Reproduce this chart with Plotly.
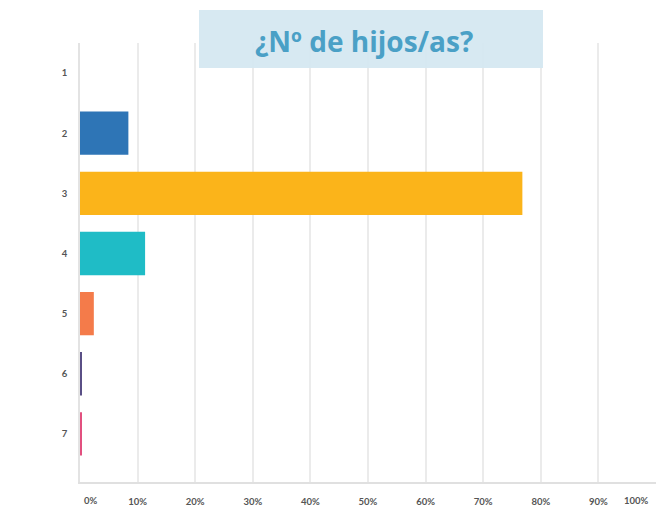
import plotly.graph_objects as go

categories = ["1", "2", "3", "4", "5", "6", "7"]
values = [0, 8.4, 76.8, 11.3, 2.4, 0.3, 0.3]
colors = ["#2e75b6", "#2e75b6", "#fbb41a", "#1fbcc6", "#f47b4a", "#5a4f86", "#e2507f"]
tick_vals = [10, 20, 30, 40, 50, 60, 70, 80, 90]
tick_text = ["10%", "20%", "30%", "40%", "50%", "60%", "70%", "80%", "90%"]
title_text = "¿Nº de hijos/as?"

fig = go.Figure(go.Bar(
    x=values, y=categories, orientation="h",
    marker=dict(color=colors, line=dict(width=0)),
    hoverinfo="skip",
))

tick_font = dict(family="Lato, Open Sans, sans-serif", size=9.5, color="#555555", weight="bold")

fig.update_layout(
    width=656, height=508,
    margin=dict(l=80, r=0, t=43, b=26),
    paper_bgcolor="white", plot_bgcolor="white",
    bargap=0.28,
    showlegend=False,
    xaxis=dict(
        range=[0, 100], tickvals=tick_vals, ticktext=tick_text,
        showgrid=True, gridcolor="#ebebeb", gridwidth=1.5,
        zeroline=False, showline=True, linecolor="#e0e0e0", linewidth=2,
        ticks="outside", ticklen=10, tickcolor="rgba(0,0,0,0)",
        tickfont=tick_font, automargin=False, fixedrange=True,
    ),
    yaxis=dict(
        type="category", categoryorder="array", categoryarray=categories,
        range=[6.8, -0.5],
        showgrid=False, zeroline=False, showline=True, linecolor="#e3e3e3", linewidth=1.5,
        ticks="outside", ticklen=9, tickcolor="rgba(0,0,0,0)",
        tickfont=tick_font, automargin=False, fixedrange=True,
    ),
    shapes=[dict(
        type="rect", xref="paper", yref="paper",
        x0=(199 - 80) / 576, x1=(543 - 80) / 576,
        y0=(482 - 68) / 439, y1=(482 - 10) / 439,
        fillcolor="rgba(213,232,241,0.95)", line=dict(width=0), layer="above",
    )],
    annotations=[
        dict(text=title_text, xref="paper", yref="paper",
             x=(364 - 80) / 576, y=(482 - 41) / 439, showarrow=False,
             xanchor="center", yanchor="middle",
             font=dict(family="Open Sans, sans-serif", size=28, color="#4aa0c6", weight="bold")),
        dict(text="0%", xref="x", yref="paper", x=0, y=0, xshift=11, yshift=-18,
             showarrow=False, xanchor="center", yanchor="middle", font=tick_font),
        dict(text="100%", xref="x", yref="paper", x=100, y=0, xshift=-20, yshift=-18,
             showarrow=False, xanchor="center", yanchor="middle", font=tick_font),
    ],
)

fig.write_html("out.html", config={"displayModeBar": False},
               post_script="document.body.style.margin='0';document.body.style.padding='0';")
